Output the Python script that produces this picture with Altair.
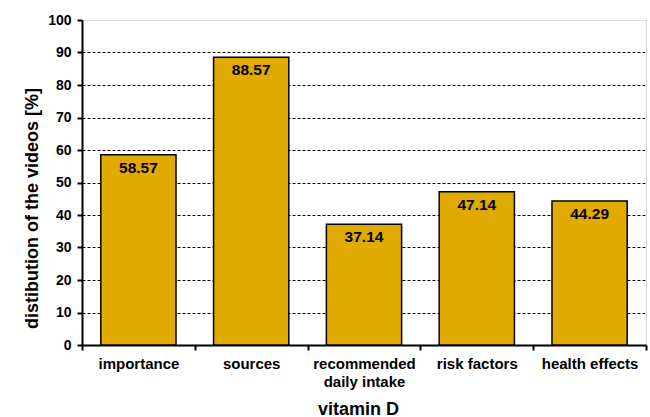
import altair as alt
import pandas as pd

categories = ["importance", "sources", "recommended|daily intake", "risk factors", "health effects"]
values = [58.57, 88.57, 37.14, 47.14, 44.29]
y_ticks = [0, 10, 20, 30, 40, 50, 60, 70, 80, 90, 100]

df = pd.DataFrame({"cat": categories, "val": values})
FONT = "Liberation Sans"

x = alt.X("cat:N", sort=categories,
          scale=alt.Scale(paddingInner=0, paddingOuter=0),
          axis=alt.Axis(title="vitamin D", labelExpr="split(datum.label, '|')",
                        labelAngle=0, labelFontSize=15, labelFontWeight="bold",
                        labelFont=FONT, labelColor="black", labelPadding=6,
                        labelLineHeight=18,
                        tickBand="extent", tickSize=5, tickWidth=2, tickColor="black",
                        domainColor="black", domainWidth=2,
                        titleFontSize=18, titleFont=FONT, titleFontWeight="bold",
                        titleColor="black",
                        titleY=64, titleBaseline="middle", titleX=276))

y = alt.Y("val:Q", scale=alt.Scale(domain=[0, 100], nice=False),
          axis=alt.Axis(title="distibution of the videos [%]", values=y_ticks,
                        labelOverlap=False,
                        labelFontSize=14, labelFontWeight="bold", labelFont=FONT,
                        labelColor="black", labelPadding=6,
                        tickSize=5, tickWidth=2, tickColor="black",
                        domainColor="black", domainWidth=2,
                        grid=True, gridColor="black", gridDash=[3, 2], gridWidth=1,
                        gridOpacity={"condition": {"test": "datum.value >= 100 || datum.value <= 0", "value": 0}, "value": 1},
                        titleFontSize=18, titleFont=FONT, titleFontWeight="bold",
                        titleColor="black", titleX=-50, titleY=188,
                        titleBaseline="middle"))

bars = alt.Chart(df).mark_bar(width={"band": 0.667}, color="#E0AA00",
                              stroke="black", strokeWidth=1.5).encode(x=x, y=y)

labels = alt.Chart(df).mark_text(baseline="top", dy=6, fontSize=15.5,
                                 fontWeight="bold", font=FONT, color="black").encode(
    x=x,
    y=y,
    text=alt.Text("val:Q", format=".2f"),
)

chart = (bars + labels).properties(
    width=564, height=325,
    autosize=alt.AutoSizeParams(type="none"),
    padding={"left": 82, "top": 20, "right": 4, "bottom": 72},
).configure_view(stroke="#808080", strokeWidth=1).configure(background="white")

chart.save("out.html", embed_options={"renderer": "svg", "actions": False})
